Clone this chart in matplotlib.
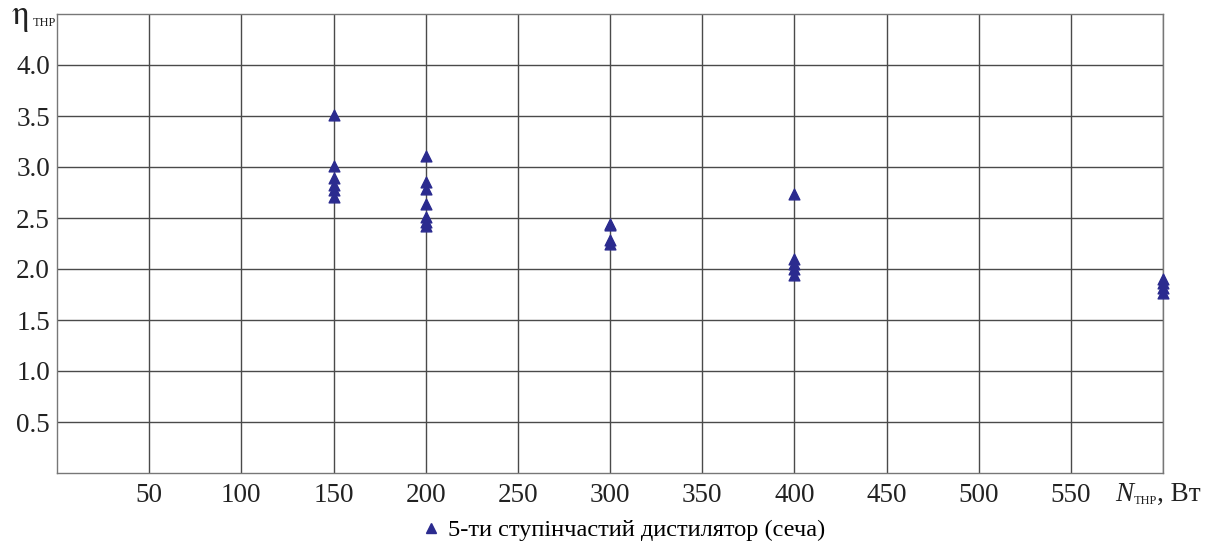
import matplotlib
matplotlib.use("Agg")
import matplotlib.pyplot as plt
from matplotlib.lines import Line2D

plt.rcParams['font.family'] = ['Liberation Serif', 'DejaVu Serif']

# Data
power_150 = [150] * 6
eta_150 = [3.51, 3.01, 2.89, 2.82, 2.77, 2.71]
power_200 = [200] * 7
eta_200 = [3.11, 2.85, 2.78, 2.64, 2.51, 2.46, 2.42]
power_300 = [300] * 4
eta_300 = [2.44, 2.43, 2.28, 2.25]
power_400 = [400] * 5
eta_400 = [2.74, 2.10, 2.05, 2.00, 1.94]
power_600 = [600] * 4
eta_600 = [1.90, 1.86, 1.81, 1.76]

x_ticks = [50, 100, 150, 200, 250, 300, 350, 400, 450, 500, 550]
y_ticks = [0.5, 1.0, 1.5, 2.0, 2.5, 3.0, 3.5, 4.0]
legend_label = "5-ти ступінчастий дистилятор (сеча)"

x_all = power_150 + power_200 + power_300 + power_400 + power_600
y_all = eta_150 + eta_200 + eta_300 + eta_400 + eta_600

W, H = 1207, 547
fig = plt.figure(figsize=(W / 100, H / 100), dpi=100)
ax = fig.add_axes([57/W, 1 - 473/H, (1163-57)/W, (473-14)/H])

color = '#2b2b8f'
ax.scatter(x_all, y_all, marker='^', s=60, color=color, zorder=3, clip_on=False)

ax.set_xlim(0, 600)
ax.set_ylim(0, 4.5)
ax.set_xticks(x_ticks + [600])
ax.set_xticklabels([str(t) for t in x_ticks] + [''])
ax.set_yticks(y_ticks)
ax.set_yticklabels([f"{t:.1f}" for t in y_ticks])
ax.grid(True, color='#4a4a4a', linewidth=1.0)
ax.tick_params(length=0, labelsize=19.5, colors='#222222')
ax.tick_params(axis='x', pad=7)
ax.tick_params(axis='y', pad=5)
for s in ax.spines.values():
    s.set_color('#777777')
    s.set_linewidth(1.0)

tc = '#222222'
def ftxt(x, y, s, **kw):
    return fig.text(x / W, 1 - y / H, s, ha='left', va='baseline', color=tc, **kw)

# y-axis label: eta_THP
ftxt(12, 24, 'η', fontsize=25, family='STIXGeneral')
ftxt(33, 26, 'THP', fontsize=9)
# x-axis label: N_THP, Вт
ftxt(1115, 501, 'N', fontsize=19.5, style='italic')
ftxt(1134, 504, 'THP', fontsize=9)
ftxt(1157, 501, ', Вт', fontsize=19.5)

handle = Line2D([], [], marker='^', color=color, linestyle='None', markersize=7)
fig.legend([handle], [legend_label], loc='center', bbox_to_anchor=(622/W, 1 - 530/H),
           frameon=False, fontsize=17.6, handletextpad=0.2, handlelength=1.0)

fig.savefig('out.png', dpi=100)
